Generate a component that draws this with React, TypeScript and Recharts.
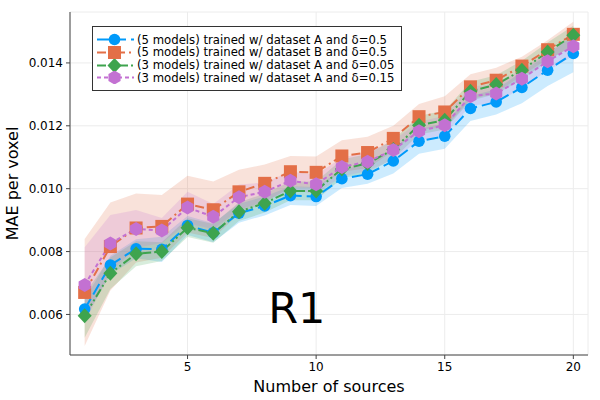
import { ComposedChart, Line, Area, XAxis, YAxis, CartesianGrid, ReferenceDot } from 'recharts';

const sources = [1, 2, 3, 4, 5, 6, 7, 8, 9, 10, 11, 12, 13, 14, 15, 16, 17, 18, 19, 20];

const maeA5 = [0.00617, 0.00757, 0.00809, 0.00807, 0.00883, 0.0086, 0.00922, 0.00945, 0.00978, 0.00975, 0.01032, 0.01046, 0.01088, 0.01151, 0.01167, 0.01255, 0.01276, 0.01322, 0.01377, 0.0143];
const maeB5 = [0.0067, 0.00816, 0.00875, 0.0088, 0.00951, 0.00933, 0.0099, 0.01017, 0.01054, 0.01052, 0.01104, 0.01115, 0.0116, 0.01229, 0.01244, 0.01324, 0.01345, 0.0139, 0.01442, 0.01491];
const maeA3d05 = [0.00596, 0.00731, 0.00793, 0.008, 0.00876, 0.00858, 0.00927, 0.00954, 0.00993, 0.00993, 0.01063, 0.0108, 0.01125, 0.01202, 0.01218, 0.0131, 0.01331, 0.01377, 0.01435, 0.01488];
const maeA3d15 = [0.00694, 0.00826, 0.00872, 0.00867, 0.0094, 0.00911, 0.00973, 0.0099, 0.01025, 0.01014, 0.01069, 0.01086, 0.01123, 0.01183, 0.01202, 0.01294, 0.01303, 0.0135, 0.01405, 0.01453];

// spread of the shaded ribbons
const sdA5 = [0.0003, 0.0003, 0.0003, 0.0004, 0.0003, 0.0003, 0.0003, 0.0003, 0.0003, 0.0003, 0.0003, 0.0003, 0.0004, 0.0004, 0.0004, 0.0004, 0.0004, 0.0005, 0.0005, 0.0006];
const sdB5 = [0.0017, 0.0014, 0.0011, 0.001, 0.0009, 0.0009, 0.0007, 0.0006, 0.0005, 0.0005, 0.0005, 0.0005, 0.0004, 0.0004, 0.0005, 0.0004, 0.0004, 0.0003, 0.0003, 0.0004];
const sdA3d05 = [0.0007, 0.0005, 0.0004, 0.0003, 0.0003, 0.0003, 0.0003, 0.0003, 0.0003, 0.0003, 0.0003, 0.0003, 0.0003, 0.0003, 0.0003, 0.0003, 0.0003, 0.0003, 0.0003, 0.0003];
const sdA3d15 = [0.0012, 0.0009, 0.0006, 0.0004, 0.0005, 0.0004, 0.0004, 0.0003, 0.0003, 0.0003, 0.0003, 0.0003, 0.0003, 0.0003, 0.0003, 0.0003, 0.0003, 0.0003, 0.0003, 0.0003];

const xTicks = [5, 10, 15, 20];
const yTicks = [0.006, 0.008, 0.01, 0.012, 0.014];

const FONT = '"DejaVu Sans", sans-serif';

type Series = { key: string; name: string; color: string; dash: string; marker: string; mean: number[]; sd: number[] };

const series: Series[] = [
  { key: 'a5', name: '(5 models) trained w/ dataset A and δ=0.5', color: '#009AFA', dash: '12 5', marker: 'circle', mean: maeA5, sd: sdA5 },
  { key: 'b5', name: '(5 models) trained w/ dataset B and δ=0.5', color: '#E36F47', dash: '9 4 2 4', marker: 'square', mean: maeB5, sd: sdB5 },
  { key: 'a3d05', name: '(3 models) trained w/ dataset A and δ=0.05', color: '#3EA44E', dash: '9 3 2 3 2 3', marker: 'diamond', mean: maeA3d05, sd: sdA3d05 },
  { key: 'a3d15', name: '(3 models) trained w/ dataset A and δ=0.15', color: '#C371D2', dash: '4 3', marker: 'hexagon', mean: maeA3d15, sd: sdA3d15 },
];

const data = sources.map((x, i) => {
  const row: Record<string, any> = { x };
  series.forEach(s => {
    row[s.key] = s.mean[i];
    row[s.key + 'Band'] = [s.mean[i] - s.sd[i], s.mean[i] + s.sd[i]];
  });
  return row;
});

function Marker({ type, cx, cy, color }: { type: string; cx: number; cy: number; color: string }) {
  if (type === 'square') return <rect x={cx - 6.5} y={cy - 6.5} width={13} height={13} fill={color} />;
  if (type === 'diamond') return <polygon points={`${cx},${cy - 7.5} ${cx + 7},${cy} ${cx},${cy + 7.5} ${cx - 7},${cy}`} fill={color} />;
  if (type === 'hexagon') {
    const pts = [0, 1, 2, 3, 4, 5].map(k => {
      const a = (Math.PI / 3) * k + Math.PI / 6;
      return `${cx + 7 * Math.cos(a)},${cy + 7 * Math.sin(a)}`;
    }).join(' ');
    return <polygon points={pts} fill={color} />;
  }
  return <circle cx={cx} cy={cy} r={5.8} fill={color} />;
}

function LegendBox() {
  return (
    <div style={{ position: 'absolute', left: 92, top: 26, width: 308, height: 63, border: '1px solid #333', background: '#fff', fontFamily: FONT, fontSize: 11.7, color: '#000' }}>
      {series.map((s, i) => (
        <div key={s.key} style={{ position: 'absolute', left: 0, top: 6 + i * 12.8, height: 13, display: 'flex', alignItems: 'center', whiteSpace: 'nowrap' }}>
          <svg width={44} height={13}>
            <line x1={4} y1={6.5} x2={41} y2={6.5} stroke={s.color} strokeWidth={2} strokeDasharray={s.dash} />
            <Marker type={s.marker} cx={21.5} cy={6.5} color={s.color} />
          </svg>
          <span>{s.name}</span>
        </div>
      ))}
    </div>
  );
}

export default function App() {
  const tick = { fontSize: 12, fill: '#000', fontFamily: FONT };
  return (
    <div style={{ position: 'fixed', left: 0, top: 0, width: 600, height: 400, background: '#fff' }}>
      <ComposedChart width={600} height={400} data={data} margin={{ top: 12, right: 12, left: 0, bottom: 0 }}>
        <CartesianGrid stroke="#ececec" strokeWidth={1} />
        <XAxis dataKey="x" type="number" domain={[0.43, 20.57]} ticks={xTicks} allowDataOverflow
          tick={tick} tickSize={4} tickMargin={3} stroke="#444" height={45}
          label={{ value: 'Number of sources', position: 'insideBottom', offset: 8, style: { fontSize: 16, fill: '#000', fontFamily: FONT } }} />
        <XAxis xAxisId="top" orientation="top" dataKey="x" type="number" domain={[0.43, 20.57]} tick={false} tickLine={false} stroke="#444" height={0} />
        <YAxis type="number" domain={[0.00471, 0.01562]} ticks={yTicks} allowDataOverflow
          tickFormatter={(v: number) => v.toFixed(3)} tick={tick} tickSize={4} tickMargin={3} stroke="#444" width={70}
          label={(p: any) => (
            <text x={12} y={p.viewBox.y + p.viewBox.height / 2} transform={`rotate(-90 12 ${p.viewBox.y + p.viewBox.height / 2})`}
              textAnchor="middle" dominantBaseline="central" fontSize={16} fontFamily={FONT} fill="#000">MAE per voxel</text>
          )} />
        <YAxis yAxisId="right" orientation="right" type="number" domain={[0.00471, 0.01562]} tick={false} tickLine={false} stroke="#444" width={0} />
        {series.flatMap(s => [
          <Area key={s.key + 'Band'} dataKey={s.key + 'Band'} type="linear" stroke="none" fill={s.color} fillOpacity={0.2}
            isAnimationActive={false} dot={false} activeDot={false} />,
          <Line key={s.key} dataKey={s.key} type="linear" stroke={s.color} strokeWidth={2} strokeDasharray={s.dash}
            isAnimationActive={false} activeDot={false}
            dot={(p: any) => <Marker key={s.key + p.index} type={s.marker} cx={p.cx} cy={p.cy} color={s.color} />} />,
        ])}
        <ReferenceDot x={9.25} y={0.00574} r={0} stroke="none" fill="none"
          label={(p: any) => (
            <text x={p.viewBox.x + (p.viewBox.width || 0) / 2} y={p.viewBox.y + (p.viewBox.height || 0) / 2} textAnchor="middle"
              fontSize={43} fontFamily={FONT} fill="#000">R1</text>
          )} />
      </ComposedChart>
      <LegendBox />
    </div>
  );
}
